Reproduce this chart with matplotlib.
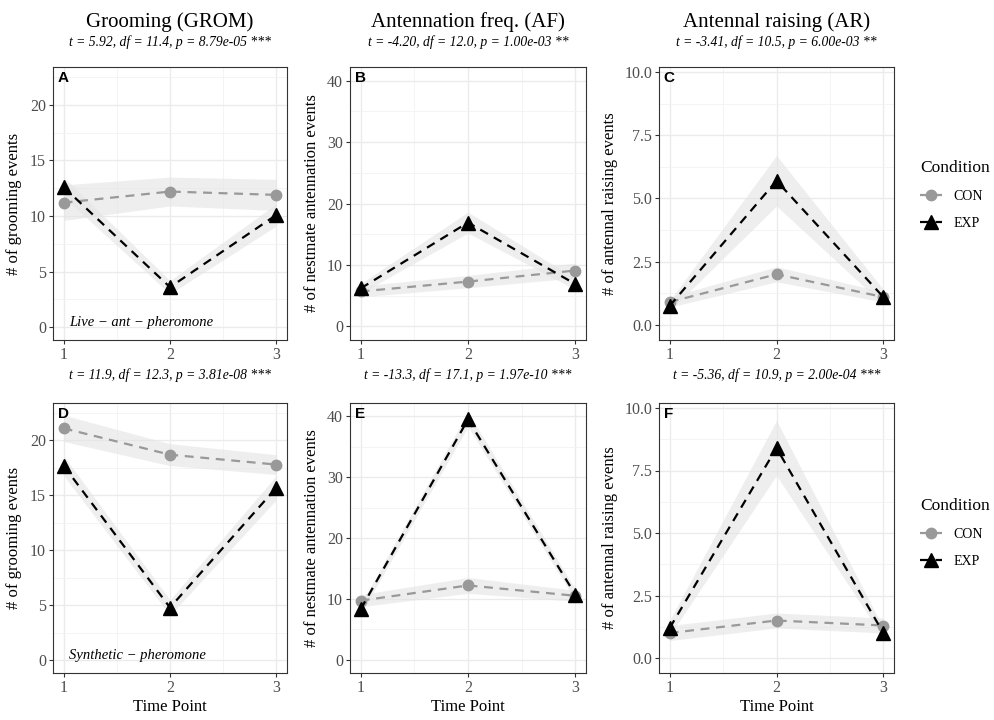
import matplotlib
matplotlib.use("Agg")
import matplotlib.pyplot as plt
from matplotlib.lines import Line2D
from matplotlib.ticker import MultipleLocator

plt.rcParams['font.family'] = ['Liberation Serif', 'DejaVu Serif']

time_points = [1, 2, 3]
conditions = ["CON", "EXP"]

titles = ["Grooming (GROM)", "Antennation freq. (AF)", "Antennal raising (AR)"]
ylabels = ["# of grooming events", "# of nestmate antennation events", "# of antennal raising events"]
panel_letters = ["A", "B", "C", "D", "E", "F"]
stats = [
    "t = 5.92, df = 11.4, p = 8.79e-05 ***",
    "t = -4.20, df = 12.0, p = 1.00e-03 **",
    "t = -3.41, df = 10.5, p = 6.00e-03 **",
    "t = 11.9, df = 12.3, p = 3.81e-08 ***",
    "t = -13.3, df = 17.1, p = 1.97e-10 ***",
    "t = -5.36, df = 10.9, p = 2.00e-04 ***",
]
row_notes = ["Live \u2212 ant \u2212 pheromone", "Synthetic \u2212 pheromone"]

# means and standard errors
con_mean = [
    [11.2, 12.2, 11.9],
    [5.7, 7.3, 9.1],
    [0.9, 2.0, 1.1],
    [21.1, 18.7, 17.8],
    [9.7, 12.2, 10.5],
    [1.0, 1.5, 1.3],
]
con_se = [
    [1.6, 1.3, 1.4],
    [0.9, 1.0, 1.2],
    [0.2, 0.3, 0.2],
    [1.2, 1.0, 0.9],
    [1.0, 1.3, 0.9],
    [0.3, 0.3, 0.3],
]
exp_mean = [
    [12.6, 3.6, 10.1],
    [6.2, 16.9, 6.9],
    [0.75, 5.7, 1.1],
    [17.7, 4.8, 15.7],
    [8.3, 39.5, 10.7],
    [1.2, 8.4, 1.0],
]
exp_se = [
    [0.9, 0.6, 1.0],
    [0.8, 1.7, 0.9],
    [0.2, 1.0, 0.3],
    [0.9, 0.7, 1.1],
    [0.8, 1.2, 0.9],
    [0.3, 1.1, 0.2],
]

# axis ranges per column
ylims = [(-1.15, 23.4), (-2.2, 42.2), (-0.6, 10.2)]
ymajor = [5, 10, 2.5]

W, H = 994, 720
fig = plt.figure(figsize=(W / 100, H / 100), dpi=100)

col_x = [(53, 287), (350, 586), (659, 894)]
row_y = [(67, 340), (403, 673)]

con_col = "#999999"
ribbon_col = "#e4e4e4"

for r in range(2):
    for c in range(3):
        i = r * 3 + c
        x0, x1 = col_x[c]
        y0, y1 = row_y[r]
        ax = fig.add_axes([x0 / W, 1 - y1 / H, (x1 - x0) / W, (y1 - y0) / H])

        ax.fill_between(time_points, [m - s for m, s in zip(con_mean[i], con_se[i])],
                        [m + s for m, s in zip(con_mean[i], con_se[i])],
                        color=ribbon_col, alpha=0.6, lw=0, zorder=2)
        ax.fill_between(time_points, [m - s for m, s in zip(exp_mean[i], exp_se[i])],
                        [m + s for m, s in zip(exp_mean[i], exp_se[i])],
                        color=ribbon_col, alpha=0.6, lw=0, zorder=2)
        ax.plot(time_points, con_mean[i], color=con_col, lw=1.6, dashes=(4, 3),
                marker="o", ms=7.5, zorder=3)
        ax.plot(time_points, exp_mean[i], color="black", lw=1.6, dashes=(4, 3),
                marker="^", ms=9.5, zorder=4)

        ax.set_xlim(0.9, 3.1)
        ax.set_ylim(*ylims[c])
        ax.xaxis.set_major_locator(MultipleLocator(1))
        ax.xaxis.set_minor_locator(MultipleLocator(0.5))
        ax.yaxis.set_major_locator(MultipleLocator(ymajor[c]))
        ax.yaxis.set_minor_locator(MultipleLocator(ymajor[c] / 2))
        if c == 2:
            ax.set_yticks([0, 2.5, 5, 7.5, 10])
            ax.set_yticklabels(["0.0", "2.5", "5.0", "7.5", "10.0"])
        ax.grid(which="major", color="#ebebeb", lw=1.0, zorder=0)
        ax.grid(which="minor", color="#f3f3f3", lw=0.6, zorder=0)
        ax.set_axisbelow(True)
        ax.tick_params(which="minor", length=0)
        ax.tick_params(which="major", length=3, width=0.8, color="#333333",
                       labelcolor="#4d4d4d", labelsize=11.5, pad=2)
        for sp in ax.spines.values():
            sp.set_color("#333333")
            sp.set_linewidth(0.8)

        ax.set_ylabel(ylabels[c], fontsize=12, color="black")
        lx = [-0.132, -0.127, -0.174][c]
        ax.yaxis.set_label_coords(lx, 0.5)
        if r == 1:
            ax.set_xlabel("Time Point", fontsize=12, labelpad=2)

        ax.text(0.02, 0.985, panel_letters[i], transform=ax.transAxes, ha="left", va="top",
                fontsize=11, fontweight="bold", family=["Liberation Sans", "DejaVu Sans"])
        ax.text(0.5, 1.092 if r == 0 else 1.104, stats[i], transform=ax.transAxes,
                ha="center", va="center", fontsize=9.8, style="italic")
        if r == 0:
            ax.text(0.5, 1.165, titles[c], transform=ax.transAxes, ha="center", va="center",
                    fontsize=15)
        if c == 0:
            ax.text(0.07, 0.065, row_notes[r], transform=ax.transAxes, ha="left",
                    va="center", fontsize=10.5, style="italic")

handles = [
    Line2D([], [], color=con_col, lw=1.6, dashes=(4, 3), marker="o", ms=7.5),
    Line2D([], [], color="black", lw=1.6, dashes=(4, 3), marker="^", ms=9.5),
]
for ly in [195, 533]:
    leg = fig.legend(handles, conditions, title="Condition", loc="center left",
                     bbox_to_anchor=(920 / W, 1 - ly / H), frameon=False,
                     fontsize=10, title_fontsize=12.5, handlelength=1.6,
                     labelspacing=1.0, borderpad=0, borderaxespad=0)
    leg._legend_box.align = "left"

fig.savefig("out.png", dpi=100)
